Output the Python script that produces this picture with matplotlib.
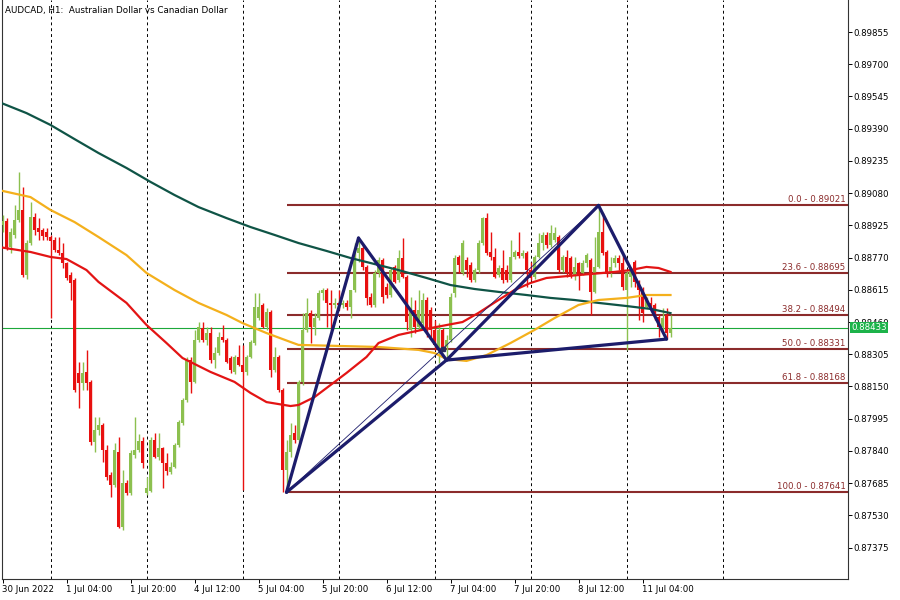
import numpy as np
import matplotlib
matplotlib.use("Agg")
import matplotlib.pyplot as plt
from matplotlib import transforms

# AUDCAD H1 candles, 30 Jun 2022 12:00 .. 11 Jul 2022 11:00 (bar index = hours on chart)
opens = [0.88927, 0.88946, 0.88821, 0.88879, 0.88951, 0.88999, 0.88686, 0.88840, 0.88965, 0.88912,
         0.88903, 0.88893, 0.88869, 0.88855, 0.88807, 0.88792, 0.88744, 0.88686, 0.88662, 0.88215,
         0.88167, 0.88220, 0.88172, 0.87883, 0.87941, 0.87965, 0.87845, 0.87724, 0.87676, 0.87835,
         0.87474, 0.87686, 0.87638, 0.87820, 0.87845, 0.87888, 0.87638, 0.87647, 0.87893, 0.87811,
         0.87854, 0.87782, 0.87739, 0.87763, 0.87869, 0.87974, 0.88085, 0.88277, 0.88172, 0.88374,
         0.88431, 0.88374, 0.88407, 0.88277, 0.88311, 0.88388, 0.88374, 0.88287, 0.88220, 0.88292,
         0.88253, 0.88220, 0.88292, 0.88359, 0.88479, 0.88542, 0.88436, 0.88508, 0.88229, 0.88292,
         0.88133, 0.87748, 0.87835, 0.87926, 0.87893, 0.88172, 0.88422, 0.88504, 0.88436, 0.88479,
         0.88600, 0.88614, 0.88552, 0.88542, 0.88552, 0.88542, 0.88552, 0.88532, 0.88614, 0.88792,
         0.88816, 0.88725, 0.88580, 0.88542, 0.88696, 0.88758, 0.88629, 0.88590, 0.88725, 0.88662,
         0.88768, 0.88677, 0.88422, 0.88518, 0.88436, 0.88455, 0.88566, 0.88518, 0.88422, 0.88340,
         0.88422, 0.88340, 0.88374, 0.88600, 0.88773, 0.88696, 0.88758, 0.88734, 0.88662, 0.88710,
         0.88840, 0.88960, 0.88797, 0.88773, 0.88686, 0.88720, 0.88710, 0.88662, 0.88773, 0.88797,
         0.88778, 0.88792, 0.88710, 0.88677, 0.88773, 0.88840, 0.88879, 0.88831, 0.88855, 0.88869,
         0.88710, 0.88773, 0.88768, 0.88686, 0.88744, 0.88696, 0.88744, 0.88758, 0.88605, 0.88725,
         0.88893, 0.88797, 0.88696, 0.88744, 0.88768, 0.88744, 0.88614, 0.88677, 0.88749, 0.88648,
         0.88614, 0.88532, 0.88552, 0.88542, 0.88484, 0.88436, 0.88494, 0.88407]
highs = [0.88975, 0.88960, 0.88912, 0.89023, 0.89182, 0.89110, 0.88855, 0.89037, 0.88985, 0.88960,
         0.88912, 0.88912, 0.88879, 0.88869, 0.88869, 0.88840, 0.88749, 0.88701, 0.88672, 0.88268,
         0.88268, 0.88326, 0.88181, 0.88003, 0.88003, 0.87974, 0.87869, 0.87739, 0.87878, 0.87907,
         0.87748, 0.87700, 0.87845, 0.88003, 0.87921, 0.87907, 0.87715, 0.87907, 0.87926, 0.87926,
         0.87859, 0.87830, 0.87787, 0.87878, 0.87989, 0.88095, 0.88292, 0.88292, 0.88422, 0.88460,
         0.88460, 0.88436, 0.88436, 0.88340, 0.88412, 0.88446, 0.88383, 0.88297, 0.88301, 0.88350,
         0.88350, 0.88301, 0.88374, 0.88600, 0.88600, 0.88552, 0.88528, 0.88518, 0.88340, 0.88301,
         0.88143, 0.87893, 0.87974, 0.87965, 0.88181, 0.88504, 0.88576, 0.88518, 0.88504, 0.88614,
         0.88624, 0.88624, 0.88614, 0.88576, 0.88614, 0.88566, 0.88566, 0.88614, 0.88840, 0.88864,
         0.88831, 0.88734, 0.88600, 0.88710, 0.88773, 0.88768, 0.88648, 0.88720, 0.88734, 0.88807,
         0.88864, 0.88686, 0.88580, 0.88566, 0.88614, 0.88600, 0.88580, 0.88532, 0.88470, 0.88455,
         0.88431, 0.88398, 0.88600, 0.88782, 0.88782, 0.88855, 0.88773, 0.88749, 0.88720, 0.88855,
         0.88965, 0.88985, 0.88893, 0.88816, 0.88734, 0.88807, 0.88734, 0.88855, 0.88807, 0.88893,
         0.88807, 0.88802, 0.88749, 0.88782, 0.88888, 0.88893, 0.88893, 0.88927, 0.88917, 0.88879,
         0.88782, 0.88807, 0.88778, 0.88773, 0.88749, 0.88758, 0.88792, 0.88768, 0.88869, 0.89021,
         0.88985, 0.88807, 0.88773, 0.88782, 0.88782, 0.88782, 0.88710, 0.88725, 0.88758, 0.88662,
         0.88629, 0.88580, 0.88580, 0.88552, 0.88494, 0.88528, 0.88528, 0.88494]
lows = [0.88893, 0.88807, 0.88792, 0.88864, 0.88941, 0.88677, 0.88667, 0.88831, 0.88879, 0.88855,
        0.88855, 0.88855, 0.88479, 0.88797, 0.88782, 0.88720, 0.88662, 0.88566, 0.88124, 0.88047,
        0.88133, 0.88133, 0.87869, 0.87835, 0.87917, 0.87787, 0.87700, 0.87618, 0.87667, 0.87469,
        0.87460, 0.87628, 0.87628, 0.87806, 0.87835, 0.87758, 0.87628, 0.87643, 0.87806, 0.87796,
        0.87662, 0.87724, 0.87729, 0.87758, 0.87859, 0.87965, 0.88075, 0.88119, 0.88167, 0.88364,
        0.88364, 0.88350, 0.88263, 0.88239, 0.88301, 0.88364, 0.88263, 0.88215, 0.88210, 0.88249,
        0.87652, 0.88205, 0.88287, 0.88350, 0.88470, 0.88431, 0.88422, 0.88196, 0.88220, 0.88124,
        0.87643, 0.87641, 0.87811, 0.87878, 0.87883, 0.88157, 0.88412, 0.88359, 0.88398, 0.88470,
        0.88566, 0.88436, 0.88422, 0.88528, 0.88518, 0.88528, 0.88518, 0.88479, 0.88605, 0.88749,
        0.88710, 0.88542, 0.88532, 0.88532, 0.88677, 0.88552, 0.88576, 0.88580, 0.88648, 0.88653,
        0.88672, 0.88422, 0.88388, 0.88407, 0.88422, 0.88436, 0.88388, 0.88388, 0.88326, 0.88263,
        0.88326, 0.88277, 0.88364, 0.88580, 0.88696, 0.88686, 0.88677, 0.88653, 0.88653, 0.88696,
        0.88831, 0.88782, 0.88758, 0.88672, 0.88677, 0.88648, 0.88653, 0.88653, 0.88763, 0.88768,
        0.88768, 0.88629, 0.88662, 0.88667, 0.88768, 0.88807, 0.88816, 0.88821, 0.88845, 0.88696,
        0.88701, 0.88677, 0.88672, 0.88662, 0.88614, 0.88686, 0.88725, 0.88494, 0.88600, 0.88720,
        0.88782, 0.88677, 0.88677, 0.88725, 0.88710, 0.88614, 0.88326, 0.88629, 0.88629, 0.88470,
        0.88460, 0.88528, 0.88518, 0.88470, 0.88388, 0.88422, 0.88378, 0.88388]
closes = [0.88946, 0.88821, 0.88893, 0.88951, 0.88999, 0.88686, 0.88840, 0.88965, 0.88903, 0.88893,
          0.88874, 0.88869, 0.88850, 0.88807, 0.88792, 0.88744, 0.88672, 0.88648, 0.88133, 0.88167,
          0.88215, 0.88167, 0.87883, 0.87941, 0.87965, 0.87845, 0.87715, 0.87676, 0.87845, 0.87474,
          0.87686, 0.87638, 0.87830, 0.87845, 0.87888, 0.87782, 0.87662, 0.87893, 0.87811, 0.87854,
          0.87782, 0.87744, 0.87763, 0.87869, 0.87979, 0.88085, 0.88277, 0.88172, 0.88374, 0.88436,
          0.88374, 0.88407, 0.88277, 0.88311, 0.88388, 0.88374, 0.88268, 0.88229, 0.88292, 0.88253,
          0.88220, 0.88292, 0.88364, 0.88532, 0.88532, 0.88436, 0.88508, 0.88229, 0.88292, 0.88133,
          0.87748, 0.87835, 0.87917, 0.87893, 0.88172, 0.88422, 0.88504, 0.88436, 0.88479, 0.88600,
          0.88614, 0.88552, 0.88542, 0.88552, 0.88542, 0.88552, 0.88532, 0.88614, 0.88792, 0.88816,
          0.88725, 0.88576, 0.88542, 0.88696, 0.88758, 0.88580, 0.88590, 0.88710, 0.88653, 0.88768,
          0.88677, 0.88460, 0.88518, 0.88436, 0.88518, 0.88566, 0.88422, 0.88422, 0.88350, 0.88422,
          0.88340, 0.88374, 0.88580, 0.88768, 0.88734, 0.88840, 0.88710, 0.88662, 0.88710, 0.88840,
          0.88960, 0.88792, 0.88773, 0.88677, 0.88720, 0.88662, 0.88662, 0.88773, 0.88797, 0.88778,
          0.88792, 0.88710, 0.88672, 0.88773, 0.88840, 0.88879, 0.88831, 0.88888, 0.88888, 0.88710,
          0.88773, 0.88696, 0.88686, 0.88725, 0.88686, 0.88744, 0.88782, 0.88605, 0.88725, 0.88893,
          0.88792, 0.88696, 0.88725, 0.88768, 0.88744, 0.88629, 0.88696, 0.88710, 0.88653, 0.88614,
          0.88504, 0.88566, 0.88542, 0.88494, 0.88436, 0.88479, 0.88407, 0.88433]

# moving averages, read at selected bars
ma_slow_bars = [-1, 6, 12, 18, 24, 31, 37, 43, 49, 56, 62, 68, 74, 81, 87, 93, 99, 106, 112,
                118, 124, 131, 137, 143, 149, 156, 162, 167]
ma_slow = [0.89519, 0.89465, 0.89408, 0.89340, 0.89273, 0.89201, 0.89134, 0.89071, 0.89013,
           0.88960, 0.88917, 0.88879, 0.88840, 0.88802, 0.88768, 0.88739, 0.88710, 0.88672,
           0.88638, 0.88619, 0.88605, 0.88590, 0.88576, 0.88566, 0.88552, 0.88537, 0.88523,
           0.88503]
ma_mid_bars = [-1, 7, 12, 18, 24, 31, 36, 43, 49, 56, 60, 66, 72, 74, 84, 94, 104, 108, 111,
               116, 121, 127, 133, 138, 144, 149, 156, 161, 167]
ma_mid = [0.89095, 0.89061, 0.88999, 0.88941, 0.88869, 0.88782, 0.88696, 0.88614, 0.88552,
          0.88494, 0.88455, 0.88407, 0.88364, 0.88350, 0.88345, 0.88340, 0.88326, 0.88311,
          0.88282, 0.88273, 0.88301, 0.88359, 0.88422, 0.88479, 0.88542, 0.88566, 0.88576,
          0.88590, 0.88590]
ma_fast_bars = [-1, 7, 12, 16, 21, 24, 31, 36, 41, 45, 52, 58, 62, 66, 72, 74, 78, 82, 86, 91,
                94, 99, 107, 115, 119, 124, 128, 132, 136, 144, 153, 157, 161, 164, 167]
ma_fast = [0.88821, 0.88797, 0.88773, 0.88763, 0.88710, 0.88653, 0.88552, 0.88446, 0.88359,
           0.88287, 0.88220, 0.88172, 0.88119, 0.88075, 0.88056, 0.88061, 0.88099, 0.88157,
           0.88215, 0.88292, 0.88359, 0.88398, 0.88431, 0.88460, 0.88504, 0.88566, 0.88614,
           0.88648, 0.88672, 0.88686, 0.88701, 0.88710, 0.88725, 0.88720, 0.88701]

# zigzag pattern points (bar, price)
zz_bars = [71, 89, 111, 149, 166]
zz_prices = [0.87641, 0.88864, 0.88277, 0.89021, 0.88378]
zz_edges = [(0, 1), (1, 2), (0, 2), (2, 3), (3, 4), (2, 4)]

fib_names = ["0.0", "23.6", "38.2", "50.0", "61.8", "100.0"]
fib_prices = [0.89021, 0.88695, 0.88494, 0.88331, 0.88168, 0.87641]

last_price = 0.88433
day_bars = [12, 36, 60, 84, 108, 132, 156, 180]
xtick_bars = [0, 16, 32, 48, 64, 80, 96, 112, 128, 144, 160]
xtick_labels = ["30 Jun 2022", "1 Jul 04:00", "1 Jul 20:00", "4 Jul 12:00", "5 Jul 04:00",
                "5 Jul 20:00", "6 Jul 12:00", "7 Jul 04:00", "7 Jul 20:00", "8 Jul 12:00",
                "11 Jul 04:00"]
yticks = [0.87375, 0.87530, 0.87685, 0.87840, 0.87995, 0.88150, 0.88305, 0.88460, 0.88615,
          0.88770, 0.88925, 0.89080, 0.89235, 0.89390, 0.89545, 0.89700, 0.89855]

BULL = "#8cc04f"
BEAR = "#e8100f"
FIB = "#8b2b2b"
NAVY = "#1c1c6b"
font = "DejaVu Sans"

fig = plt.figure(figsize=(9, 6), dpi=100)
ax = fig.add_axes([2 / 900, 21 / 600, 846 / 900, 579 / 600])
ax.set_xlim(-0.125, 211.375)
ax.set_ylim(0.87224, 0.90009)

# day separators
for b in day_bars:
    ax.axvline(b, color="black", lw=0.7, ls=(0, (3, 3)), zorder=1)

# fibonacci levels
for name, p in zip(fib_names, fib_prices):
    ax.plot([zz_bars[0], 211.375], [p, p], color=FIB, lw=1.5, zorder=2, solid_capstyle="butt")
    ax.text(210.8, p + 0.00005, f"{name} - {p:.5f}", color=FIB, fontsize=6.2,
            family=font, ha="right", va="bottom", zorder=6)

# current price line
ax.axhline(last_price, color="#1da83a", lw=0.8, zorder=2)

# candles
o = np.array(opens)
h = np.array(highs)
l = np.array(lows)
c = np.array(closes)
idx = np.arange(len(o))
cols = np.where(c >= o, BULL, BEAR)
ax.vlines(idx, l, h, colors=cols, lw=1.0, zorder=3)
body_lo = np.minimum(o, c)
body_h = np.maximum(np.abs(c - o), 0.00004)
ax.bar(idx, body_h, bottom=body_lo, width=0.8, color=cols, lw=0, zorder=3)

# moving averages
ax.plot(ma_slow_bars, ma_slow, color="#0f5446", lw=1.6, zorder=4)
ax.plot(ma_mid_bars, ma_mid, color="#f4b01c", lw=1.6, zorder=4)
ax.plot(ma_fast_bars, ma_fast, color="#e31414", lw=1.6, zorder=4)

# zigzag pattern
for a, b in zz_edges:
    ax.plot([zz_bars[a], zz_bars[b]], [zz_prices[a], zz_prices[b]], color=NAVY, lw=2.3,
            zorder=5, solid_capstyle="round")
ax.plot([zz_bars[0], zz_bars[3]], [zz_prices[0], zz_prices[3]], color=NAVY, lw=0.6, zorder=5)
ax.plot([110], [fib_prices[3]], marker="s", ms=3.5, color="#2a2a5a", zorder=5)

# axes styling
ax.spines["top"].set_visible(False)
for side in ["left", "bottom", "right"]:
    ax.spines[side].set_color("#333333")
    ax.spines[side].set_linewidth(0.8)

ax.yaxis.tick_right()
ax.set_yticks(yticks)
ax.set_yticklabels([f"{v:.5f}" for v in yticks], fontsize=6.2, family=font)
ax.tick_params(axis="y", direction="out", length=3, width=0.7, pad=1)
ax.set_xticks(xtick_bars)
ax.set_xticklabels(xtick_labels, fontsize=6.2, family=font, ha="left")
ax.tick_params(axis="x", direction="out", length=3, width=0.7, pad=1.5)

# last price tag
tr = transforms.blended_transform_factory(ax.transAxes, ax.transData)
ax.text(1.004, last_price, f"{last_price:.5f}", transform=tr, fontsize=6.2, family=font,
        color="white", va="center", ha="left", zorder=7,
        bbox=dict(boxstyle="square,pad=0.15", fc="#1db34a", ec="none"))

fig.text(5 / 900, 1 - 10 / 600, "AUDCAD, H1:  Australian Dollar vs Canadian Dollar",
         fontsize=6.3, family=font, va="center", ha="left")

fig.savefig("out.png", dpi=100, facecolor="white")
